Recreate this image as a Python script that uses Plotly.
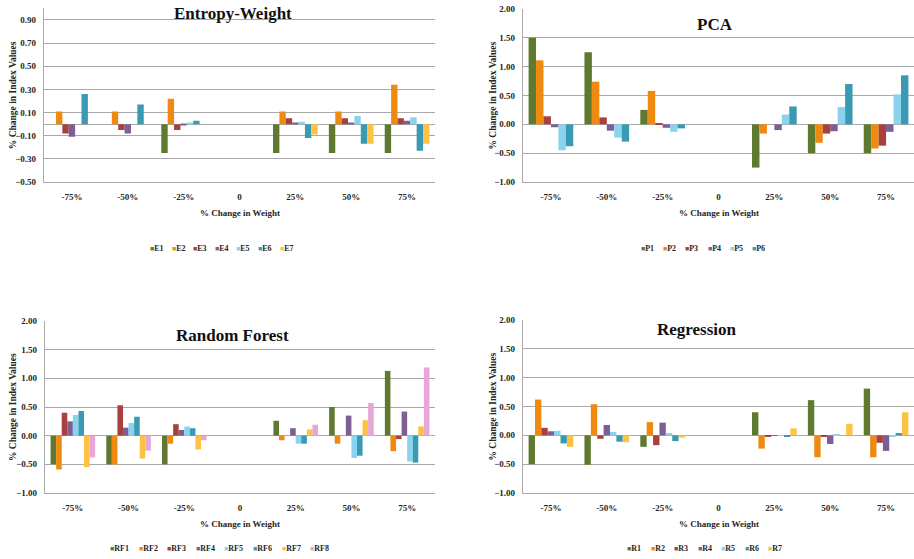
import plotly.graph_objects as go

categories = ["-75%", "-50%", "-25%", "0", "25%", "50%", "75%"]

# Entropy-Weight
E1 = [0, 0, -0.25, 0, -0.25, -0.25, -0.25]
E2 = [0.11, 0.11, 0.22, 0, 0.11, 0.11, 0.34]
E3 = [-0.08, -0.05, -0.05, 0, 0.05, 0.05, 0.05]
E4 = [-0.11, -0.08, -0.01, 0, 0.01, 0.01, 0.03]
E5 = [0, 0, 0.01, 0, 0.02, 0.07, 0.06]
E6 = [0.26, 0.17, 0.03, 0, -0.12, -0.17, -0.23]
E7 = [0, 0, 0, 0, -0.09, -0.17, -0.17]

# PCA
P1 = [1.50, 1.25, 0.25, 0, -0.75, -0.50, -0.50]
P2 = [1.11, 0.74, 0.58, 0, -0.16, -0.32, -0.42]
P3 = [0.14, 0.12, 0.01, 0, 0, -0.16, -0.37]
P4 = [-0.05, -0.11, -0.06, 0, -0.10, -0.12, -0.13]
P5 = [-0.45, -0.23, -0.13, 0, 0.17, 0.30, 0.52]
P6 = [-0.38, -0.30, -0.07, 0, 0.31, 0.70, 0.85]

# Random Forest
RF1 = [-0.50, -0.50, -0.50, 0, 0.26, 0.50, 1.13]
RF2 = [-0.59, -0.50, -0.14, 0, -0.08, -0.14, -0.27]
RF3 = [0.40, 0.53, 0.20, 0, 0, 0, -0.06]
RF4 = [0.25, 0.14, 0.10, 0, 0.13, 0.35, 0.42]
RF5 = [0.36, 0.22, 0.16, 0, -0.14, -0.39, -0.45]
RF6 = [0.43, 0.33, 0.13, 0, -0.14, -0.35, -0.47]
RF7 = [-0.55, -0.40, -0.24, 0, 0.11, 0.27, 0.16]
RF8 = [-0.38, -0.26, -0.08, 0, 0.19, 0.57, 1.19]

# Regression
R1 = [-0.50, -0.51, -0.20, 0, 0.40, 0.61, 0.81]
R2 = [0.62, 0.54, 0.23, 0, -0.23, -0.38, -0.38]
R3 = [0.13, -0.06, -0.17, 0, -0.02, -0.02, -0.13]
R4 = [0.07, 0.18, 0.22, 0, -0.01, -0.15, -0.27]
R5 = [0.08, 0.06, 0.04, 0, -0.01, 0.02, -0.02]
R6 = [-0.14, -0.11, -0.10, 0, -0.02, 0, 0.04]
R7 = [-0.20, -0.12, -0.04, 0, 0.12, 0.20, 0.40]

colors = ["#5f7a30", "#ef8a10", "#a8403e", "#7d5f96", "#8ad3ee", "#3b9ab3", "#fdc243", "#e6a6d6"]

panels = [
    ("Entropy-Weight", ["E1", "E2", "E3", "E4", "E5", "E6", "E7"], [E1, E2, E3, E4, E5, E6, E7]),
    ("PCA", ["P1", "P2", "P3", "P4", "P5", "P6"], [P1, P2, P3, P4, P5, P6]),
    ("Random Forest", ["RF1", "RF2", "RF3", "RF4", "RF5", "RF6", "RF7", "RF8"], [RF1, RF2, RF3, RF4, RF5, RF6, RF7, RF8]),
    ("Regression", ["R1", "R2", "R3", "R4", "R5", "R6", "R7"], [R1, R2, R3, R4, R5, R6, R7]),
]

W, H = 914, 559
FONT = "Liberation Serif, Times New Roman, serif"
GRID = "#a9a9a9"
TXT = "#262626"


def px(v):
    return v / W


def py(v):
    return 1 - v / H


# pixel layout of each panel: (left, right, top, bottom) of plot area
boxes = [(44, 435, 8.4, 182), (523, 914, 9, 182), (45, 435, 321, 493), (523, 914, 320, 493)]
yranges = [(-0.5, 1.0, -0.5, 0.2), (-1, 2, -1, 0.5), (-1, 2, -1, 0.5), (-1, 2, -1, 0.5)]
title_pos = [(233, 13), (715, 25), (233, 335), (697, 329)]
legend_pos = [(150, 249, 21.6), (641, 249, 22.2), (110, 548, 28.6), (627, 548, 23.5)]
ytitle_x = [13, 492, 13, 492]
xtitle_dy = 31

fig = go.Figure()
annotations = []
layout = dict(
    width=W, height=H, margin=dict(l=0, r=0, t=0, b=0, autoexpand=False),
    paper_bgcolor="white", plot_bgcolor="white",
    showlegend=False, barmode="group", bargap=0.2, bargroupgap=0,
)

for i, (title, names, series) in enumerate(panels):
    xa = "x" if i == 0 else f"x{i+1}"
    ya = "y" if i == 0 else f"y{i+1}"
    for j, (nm, vals) in enumerate(zip(names, series)):
        fig.add_trace(go.Bar(x=categories, y=vals, name=nm, xaxis=xa, yaxis=ya,
                             marker=dict(color=colors[j], line=dict(width=0))))
    l, r, t, b = boxes[i]
    y0, y1, t0, dt = yranges[i]
    xkey = "xaxis" if i == 0 else f"xaxis{i+1}"
    ykey = "yaxis" if i == 0 else f"yaxis{i+1}"
    layout[xkey] = dict(
        domain=[px(l), px(r)], anchor=ya, showgrid=False, zeroline=False,
        showline=True, linecolor=GRID, linewidth=1.3, automargin=False,
        ticks="", ticklabelstandoff=6,
        tickfont=dict(family=FONT, size=9, color=TXT, weight="bold"),
    )
    layout[ykey] = dict(
        domain=[py(b), py(t)], anchor=xa, range=[y0, y1], automargin=False,
        tick0=t0, dtick=dt, tickformat=".2f",
        showgrid=True, gridcolor=GRID, gridwidth=1.3,
        zeroline=True, zerolinecolor=GRID, zerolinewidth=1.3,
        showline=True, linecolor=GRID, linewidth=1.3,
        ticks="", ticklabelstandoff=5,
        tickfont=dict(family=FONT, size=9, color=TXT, weight="bold"),
    )
    # panel title
    tx, ty = title_pos[i]
    annotations.append(dict(
        text=title, x=px(tx), y=py(ty), xref="paper", yref="paper",
        xanchor="center", yanchor="middle", showarrow=False,
        font=dict(family=FONT, size=17, color="#111111", weight="bold"),
    ))
    # axis titles
    annotations.append(dict(
        text="% Change in Weight", x=px((l + r) / 2), y=py(b + xtitle_dy),
        xref="paper", yref="paper", xanchor="center", yanchor="middle", showarrow=False,
        font=dict(family=FONT, size=9, color=TXT, weight="bold"),
    ))
    annotations.append(dict(
        text="% Change in Index Values", x=px(ytitle_x[i]), y=py((t + b) / 2),
        xref="paper", yref="paper", xanchor="center", yanchor="middle", showarrow=False,
        textangle=-90, font=dict(family=FONT, size=9.5, color=TXT, weight="bold"),
    ))
    # legend
    lx, ly, step = legend_pos[i]
    for j, nm in enumerate(names):
        annotations.append(dict(
            text=f"<span style='color:{colors[j]};font-size:7px'>■</span>{nm}",
            x=px(lx + j * step - 2), y=py(ly), xref="paper", yref="paper",
            xanchor="left", yanchor="middle", showarrow=False,
            font=dict(family=FONT, size=8, color=TXT, weight="bold"),
        ))

layout["annotations"] = annotations
fig.update_layout(**layout)
# remove the browser's default 8px page margin so the figure fills the window
fig.write_html("out.html", config={"displayModeBar": False},
               post_script="document.body.style.margin='0';")
